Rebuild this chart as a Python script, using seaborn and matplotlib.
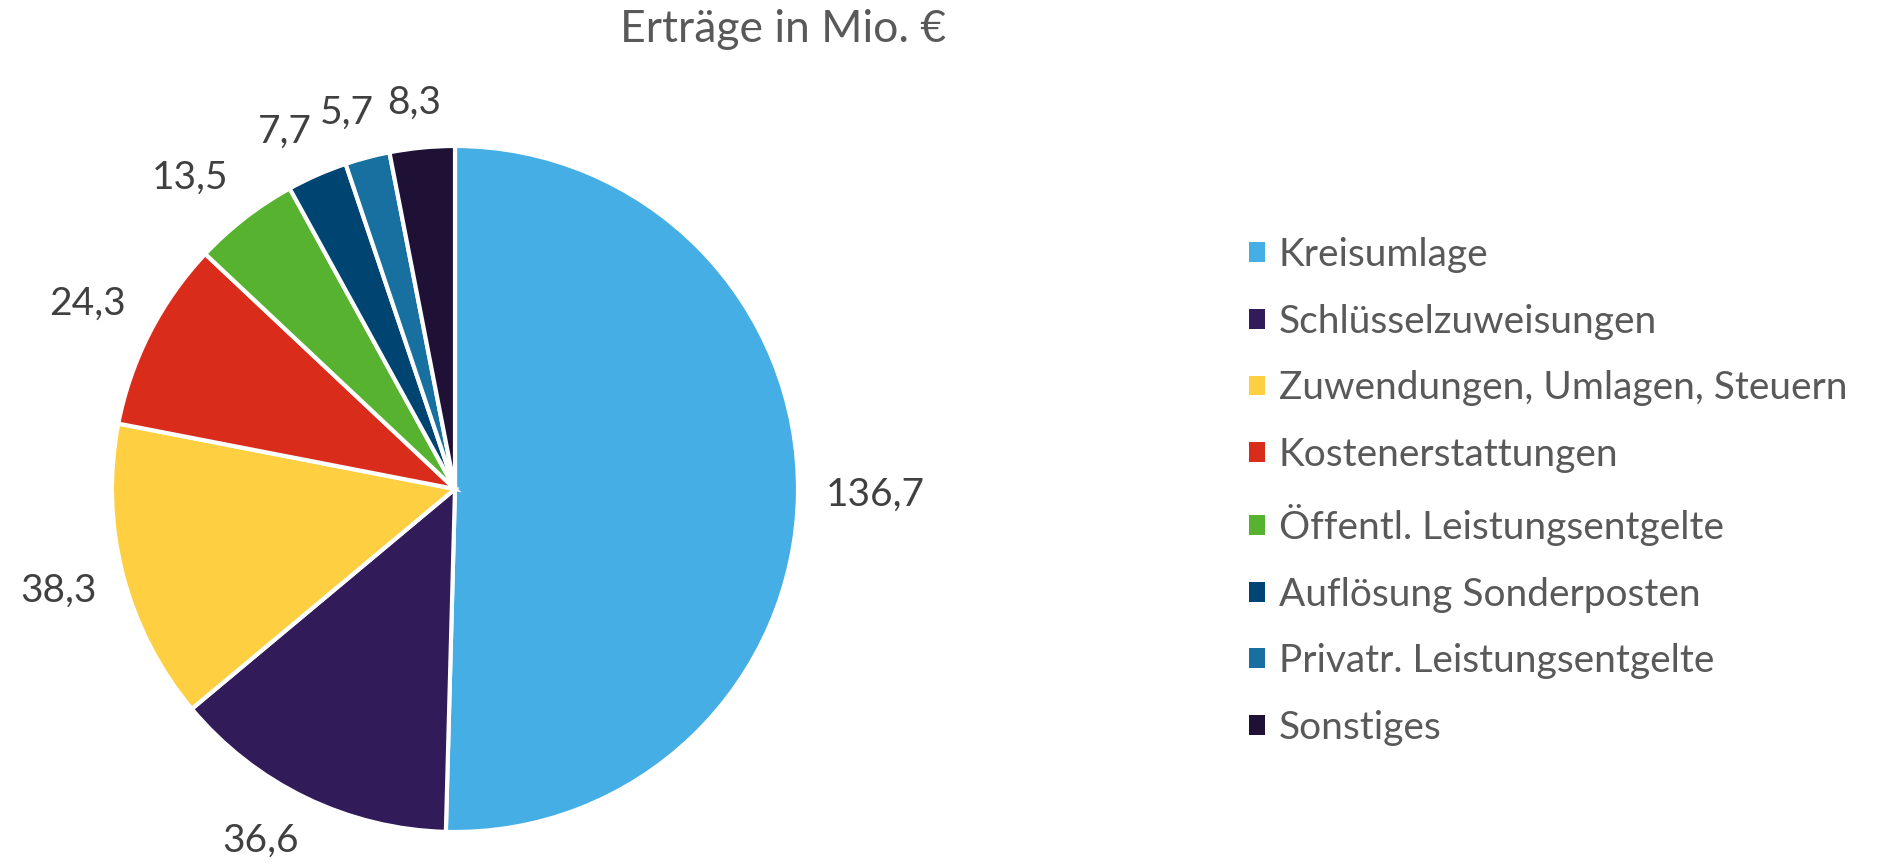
import matplotlib
matplotlib.use("Agg")
import numpy as np
import matplotlib.pyplot as plt
import seaborn as sns
from matplotlib.patches import Patch

categories = ['Kreisumlage', 'Schlüsselzuweisungen', 'Zuwendungen, Umlagen, Steuern',
              'Kostenerstattungen', 'Öffentl. Leistungsentgelte', 'Auflösung Sonderposten',
              'Privatr. Leistungsentgelte', 'Sonstiges']
values = [136.7, 36.6, 38.3, 24.3, 13.5, 7.7, 5.7, 8.3]
colors = ['#45AEE4', '#311B58', '#FDCF41', '#DA2C1A', '#56B22F', '#004472', '#1870A0', '#1E1135']

sns.set_theme(style="white")
plt.rcParams['font.family'] = ['Lato', 'DejaVu Sans']

W, H = 1883, 865
fig = plt.figure(figsize=(W / 100, H / 100), dpi=100)

# pie centre / radius in pixels
cx, cy, r = 455, H - 489, 343
lim = 1.4
half = r * lim
ax = fig.add_axes([(cx - half) / W, (cy - half) / H, 2 * half / W, 2 * half / H])

wedges, _ = ax.pie(values, colors=colors, startangle=90, counterclock=False,
                   wedgeprops=dict(edgecolor='white', linewidth=3))
ax.set_xlim(-lim, lim)
ax.set_ylim(-lim, lim)
ax.set_aspect('equal')
ax.axis('off')

# data labels outside the slices, box pushed outwards like Excel's "outside end"
labels = [f"{v:.1f}".replace('.', ',') for v in values]
texts = [ax.text(0, 0, s, ha='center', va='center', fontsize=28, color='#404040') for s in labels]
fig.canvas.draw()
renderer = fig.canvas.get_renderer()
gap = 0.08
for w, t in zip(wedges, texts):
    ang = np.deg2rad((w.theta1 + w.theta2) / 2)
    ux, uy = np.cos(ang), np.sin(ang)
    bb = t.get_window_extent(renderer).transformed(ax.transData.inverted())
    a, b = bb.width / 2, bb.height / 2
    x = (1 + gap) * ux + a * np.clip(2 * ux, -1, 1)
    y = (1 + gap) * uy + b * np.clip(2 * uy, -1, 1)
    t.set_position((x, y))

fig.text(783 / W, 1 - 30 / H, 'Erträge in Mio. €', ha='center', va='center',
         fontsize=32, color='#595959')

handles = [Patch(facecolor=c, edgecolor='none') for c in colors]
fig.legend(handles, categories, loc='upper left', bbox_to_anchor=(1249 / W, 1 - 237 / H),
           frameon=False, fontsize=28, labelcolor='#595959',
           handlelength=0.41, handleheight=0.41, handletextpad=0.36,
           labelspacing=0.79, borderpad=0, borderaxespad=0)

fig.savefig('out.png', dpi=100, facecolor='white')
